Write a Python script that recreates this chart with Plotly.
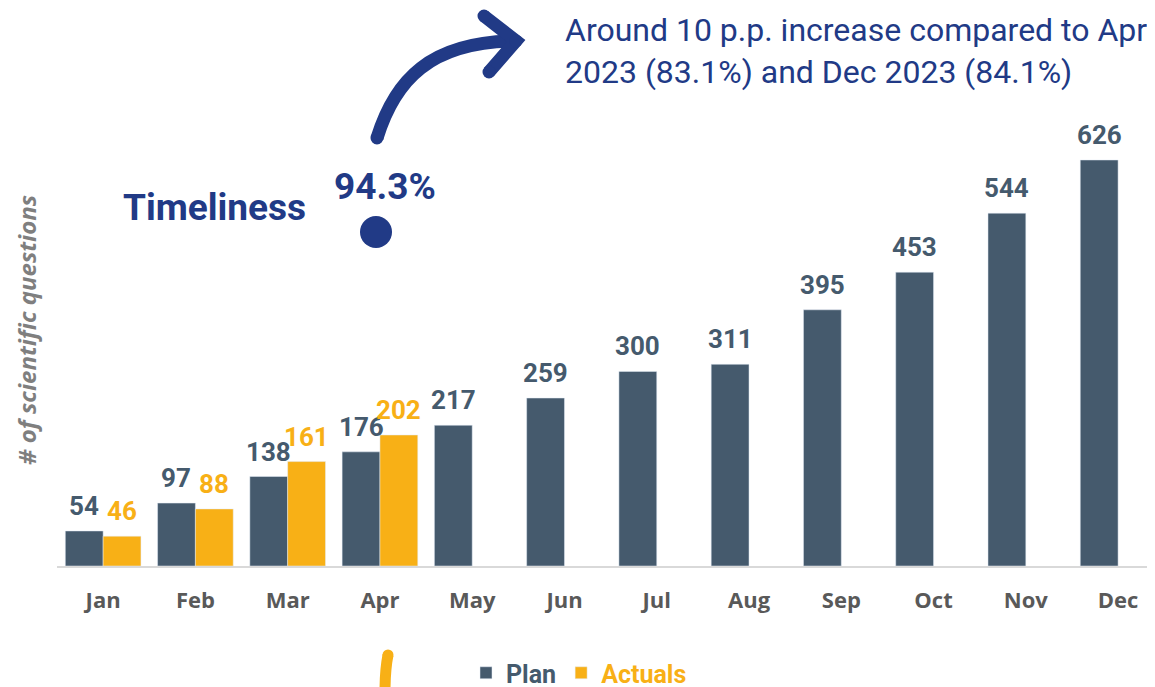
import plotly.graph_objects as go

months = ["Jan", "Feb", "Mar", "Apr", "May", "Jun", "Jul", "Aug", "Sep", "Oct", "Nov", "Dec"]
plan = [54, 97, 138, 176, 217, 259, 300, 311, 395, 453, 544, 626]
actuals = [46, 88, 161, 202, None, None, None, None, None, None, None, None]

PLAN_C = "#455a6d"
ACT_C = "#f8b016"
NAVY = "#213a86"

# page body has an 8px margin; size the figure so it fills the window
OFF = 8
W, H = 1155 - OFF, 687 - OFF
ML, MR, MT, MB = 57 - OFF, 0, 112 - OFF, 121
PW, PH = W - ML - MR, H - MT - MB
XR = [-0.5, 11.4]
BARGAP = 0.18
CAT_PX = PW / (XR[1] - XR[0])
HALF_BAR_PX = (1 - BARGAP) / 4 * CAT_PX


def px(x):
    return (x - OFF - ML) / PW


def py(y):
    return (H - MB - (y - OFF)) / PH


fig = go.Figure()
fig.add_trace(go.Bar(
    x=months, y=plan, name=f"<span style='color:{PLAN_C}'>Plan</span>",
    marker_color=PLAN_C,
))
fig.add_trace(go.Bar(
    x=months, y=actuals, name=f"<span style='color:{ACT_C}'>Actuals</span>",
    marker_color=ACT_C,
))

# value labels above each bar
for m, v in zip(months, plan):
    fig.add_annotation(x=m, y=v, xref="x", yref="y", text=f"<b>{v}</b>", showarrow=False,
                       xanchor="center", yanchor="bottom", xshift=-HALF_BAR_PX, yshift=8,
                       font=dict(family="Roboto", size=26, color=PLAN_C))
for m, v in zip(months, actuals):
    if v is None:
        continue
    fig.add_annotation(x=m, y=v, xref="x", yref="y", text=f"<b>{v}</b>", showarrow=False,
                       xanchor="center", yanchor="bottom", xshift=HALF_BAR_PX, yshift=8,
                       font=dict(family="Roboto", size=26, color=ACT_C))

# annotations
fig.add_annotation(xref="paper", yref="paper", x=px(563), y=py(9), xanchor="left", yanchor="top",
                   text="Around 10 p.p. increase compared to Apr<br>2023 (83.1%) and Dec 2023 (84.1%)",
                   showarrow=False, align="left",
                   font=dict(family="Roboto", size=32, color=NAVY))
fig.add_annotation(xref="paper", yref="paper", x=px(214), y=py(207), xanchor="center", yanchor="middle",
                   text="<b>Timeliness</b>", showarrow=False,
                   font=dict(family="Roboto", size=37, color=NAVY))
fig.add_annotation(xref="paper", yref="paper", x=px(385), y=py(187), xanchor="center", yanchor="middle",
                   text="<b>94.3%</b>", showarrow=False,
                   font=dict(family="Roboto", size=37, color=NAVY))
fig.add_annotation(xref="paper", yref="paper", x=px(26), y=py(330), xanchor="center", yanchor="middle",
                   text="<b><i># of scientific questions</i></b>", showarrow=False, textangle=-90,
                   font=dict(family="Open Sans", size=24, color="#7f7f7f"))

# dot
fig.add_shape(type="circle", xref="paper", yref="paper",
              x0=px(360), x1=px(392), y0=py(216), y1=py(248),
              fillcolor=NAVY, line=dict(width=0))

# curved arrow
AW = 13
fig.add_shape(type="path", xref="paper", yref="paper",
              path=f"M {px(377)} {py(138)} C {px(395)} {py(80)}, {px(430)} {py(42)}, {px(515)} {py(41)}",
              line=dict(color=NAVY, width=AW), fillcolor="rgba(0,0,0,0)")
fig.add_shape(type="path", xref="paper", yref="paper",
              path=f"M {px(484)} {py(16)} L {px(516)} {py(41)} L {px(489)} {py(72)}",
              line=dict(color=NAVY, width=AW), fillcolor="rgba(0,0,0,0)")
# round caps
for cx, cy in [(377, 138), (484, 16), (489, 72), (516, 41)]:
    r = AW / 2
    fig.add_shape(type="circle", xref="paper", yref="paper",
                  x0=px(cx - r), x1=px(cx + r), y0=py(cy + r), y1=py(cy - r),
                  fillcolor=NAVY, line=dict(width=0))

# yellow stroke at bottom
YW = 11
fig.add_shape(type="path", xref="paper", yref="paper",
              path=f"M {px(388)} {py(655)} Q {px(385)} {py(670)}, {px(385)} {py(692)}",
              line=dict(color=ACT_C, width=YW), fillcolor="rgba(0,0,0,0)")
fig.add_shape(type="circle", xref="paper", yref="paper",
              x0=px(388 - YW / 2), x1=px(388 + YW / 2), y0=py(655 + YW / 2), y1=py(655 - YW / 2),
              fillcolor=ACT_C, line=dict(width=0))

fig.update_layout(
    width=W, height=H,
    margin=dict(l=ML, r=MR, t=MT, b=MB, autoexpand=False),
    paper_bgcolor="white", plot_bgcolor="white",
    barmode="group", bargap=BARGAP, bargroupgap=0,
    showlegend=True,
    legend=dict(orientation="h", x=px(466), y=py(673), xanchor="left", yanchor="middle",
                font=dict(family="Roboto", size=25, weight="bold"),
                bgcolor="rgba(0,0,0,0)", itemclick=False),
    xaxis=dict(range=XR, showline=True, linecolor="#d9d9d9", linewidth=2,
               ticks="outside", ticklen=14, tickcolor="rgba(0,0,0,0)", automargin=False,
               tickfont=dict(family="Open Sans", size=22, color="#595959", weight="bold"),
               showgrid=False, fixedrange=True),
    yaxis=dict(range=[0, 700], showgrid=False, showticklabels=False, zeroline=False,
               showline=False, fixedrange=True, automargin=False),
)

fig.write_html("out.html")
